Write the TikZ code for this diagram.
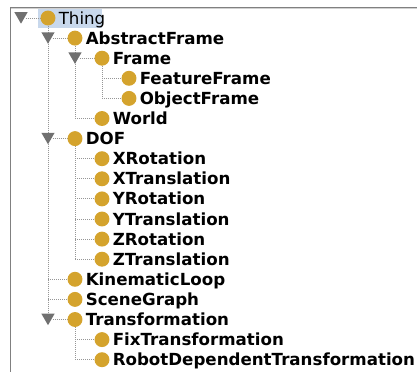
\documentclass[tikz,border=0pt]{standalone}
\usepackage{fontspec}
\setmainfont{DejaVu Sans}
\usetikzlibrary{shapes.geometric,backgrounds}

\definecolor{ballgold}{RGB}{212,163,45}
\definecolor{expgray}{RGB}{112,112,112}
\definecolor{linkgray}{RGB}{150,150,150}
\definecolor{framegray}{RGB}{128,128,128}
\definecolor{selblue}{RGB}{200,216,236}

\tikzset{
  ball/.style={circle, fill=ballgold, draw=none, minimum size=11.2pt, inner sep=0pt},
  expander/.style={regular polygon, regular polygon sides=3, shape border rotate=180,
    fill=expgray, draw=none, minimum size=11.5pt, inner sep=0pt},
  lbl/.style={inner sep=0pt, font=\fontsize{12.5}{14}\selectfont\bfseries},
  link/.style={draw=linkgray, line width=0.75pt, dash pattern=on 0.75pt off 0.75pt},
}

% one row of the class tree: name, depth, row, label
\newcommand\treeentry[4]{%
  \node[ball] (c-#1) at ({48+27*#2},{18+20.1*#3}) {};
  \node[lbl, anchor=base west] (t-#1) at ({58.5+27*#2},{24+20.1*#3}) {#4};
}
% open/close arrow in front of an expanded row: name, depth, row
\newcommand\expander[3]{%
  \node[expander] (x-#1) at ({21+27*#2},{16+20.1*#3}) {};
}

\begin{document}
\begin{tikzpicture}[x=0.75pt, y=-0.75pt]
  \useasboundingbox (0,0) rectangle (417,372);

  % panel frame
  \draw[framegray, line width=0.75pt] (417,7) -- (10,7) -- (10,372);
  \draw[black!18, line width=0.75pt] (417,8) -- (11,8);

  % rows
  \treeentry{Thing}{0}{0}{\mdseries Thing}
  \treeentry{AbstractFrame}{1}{1}{AbstractFrame}
  \treeentry{Frame}{2}{2}{Frame}
  \treeentry{FeatureFrame}{3}{3}{FeatureFrame}
  \treeentry{ObjectFrame}{3}{4}{ObjectFrame}
  \treeentry{World}{2}{5}{World}
  \treeentry{DOF}{1}{6}{DOF}
  \treeentry{XRotation}{2}{7}{XRotation}
  \treeentry{XTranslation}{2}{8}{XTranslation}
  \treeentry{YRotation}{2}{9}{YRotation}
  \treeentry{YTranslation}{2}{10}{YTranslation}
  \treeentry{ZRotation}{2}{11}{ZRotation}
  \treeentry{ZTranslation}{2}{12}{ZTranslation}
  \treeentry{KinematicLoop}{1}{13}{KinematicLoop}
  \treeentry{SceneGraph}{1}{14}{SceneGraph}
  \treeentry{Transformation}{1}{15}{Transformation}
  \treeentry{FixTransformation}{2}{16}{FixTransformation}
  \treeentry{RobotDependentTransformation}{2}{17}{RobotDependentTransformation}

  % expanded rows
  \expander{Thing}{0}{0}
  \expander{AbstractFrame}{1}{1}
  \expander{Frame}{2}{2}
  \expander{DOF}{1}{6}
  \expander{Transformation}{1}{15}

  \begin{pgfonlayer}{background}
    % selected row
    \fill[selblue] (38,8.5) rectangle (102,28);

    % vertical guides below expanded rows
    \draw[link] (c-Thing.south) -- (c-Transformation -| c-Thing);
    \draw[link] (c-AbstractFrame.south) -- (c-World -| c-AbstractFrame);
    \draw[link] (c-Frame.south) -- (c-ObjectFrame -| c-Frame);
    \draw[link] (c-DOF.south) -- (c-ZTranslation -| c-DOF);
    \draw[link] (c-Transformation.south) -- (c-RobotDependentTransformation -| c-Transformation);

    % from arrow to ball on expanded rows
    \foreach \n in {Thing,AbstractFrame,Frame,DOF,Transformation}
      \draw[link] (c-\n.west -| x-\n.east) -- (c-\n.west);

    % leaf rows
    \foreach \n/\p in {FeatureFrame/Frame, ObjectFrame/Frame, World/AbstractFrame,
        XRotation/DOF, XTranslation/DOF, YRotation/DOF, YTranslation/DOF,
        ZRotation/DOF, ZTranslation/DOF, KinematicLoop/Thing, SceneGraph/Thing,
        FixTransformation/Transformation, RobotDependentTransformation/Transformation}
      \draw[link] (c-\n.west -| c-\p) -- (c-\n.west);
  \end{pgfonlayer}
\end{tikzpicture}
\end{document}
